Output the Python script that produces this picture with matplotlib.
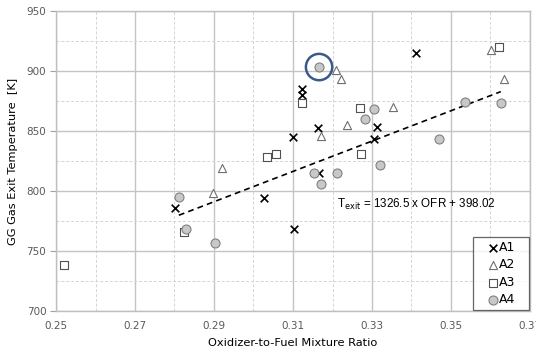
import numpy as np
import matplotlib
matplotlib.use("Agg")
import matplotlib.pyplot as plt
from matplotlib.ticker import MultipleLocator, FormatStrFormatter

# --- Data ---
a1_x = [0.2801, 0.3027, 0.3103, 0.3124, 0.3124, 0.3164, 0.3101, 0.3312, 0.3304, 0.3167, 0.3411]
a1_y = [786.1, 794.4, 768.7, 885.3, 879.8, 852.8, 845.0, 853.6, 843.4, 815.0, 915.3]

a2_x = [0.2897, 0.2919, 0.3171, 0.3208, 0.3222, 0.3237, 0.3354, 0.3601, 0.3635]
a2_y = [798.3, 819.5, 845.9, 901.2, 893.7, 854.8, 870.0, 917.2, 893.6]

a3_x = [0.2519, 0.2824, 0.3035, 0.3057, 0.3124, 0.3270, 0.3271, 0.3622]
a3_y = [738.7, 766.2, 828.6, 830.8, 873.7, 869.5, 830.6, 920.0]

a4_x = [0.2811, 0.2829, 0.2903, 0.3154, 0.3171, 0.3166, 0.3211, 0.3282, 0.3304, 0.3321, 0.3469, 0.3536, 0.3626]
a4_y = [795.0, 768.1, 756.4, 815.0, 806.2, 903.3, 815.3, 859.8, 868.1, 822.0, 843.3, 874.2, 873.1]

# highlighted point and trend line span
highlight = (0.3166, 903.3)
trend_x = [0.2811, 0.3626]
trend_y = [779.8, 882.8]

fig = plt.figure(figsize=(5.36, 3.57), dpi=100)
ax = fig.add_axes([56 / 536, 1 - 311 / 357, 474 / 536, 300 / 357])

grey = "#595959"
ax.scatter(a1_x, a1_y, marker="x", s=30, color="black", linewidths=1.2, label="A1", zorder=3)
ax.scatter(a2_x, a2_y, marker="^", s=34, facecolors="white", edgecolors="#707070", linewidths=0.8, label="A2", zorder=3)
ax.scatter(a3_x, a3_y, marker="s", s=28, facecolors="white", edgecolors="#505050", linewidths=0.8, label="A3", zorder=3)
ax.scatter(a4_x, a4_y, marker="o", s=42, facecolors="#c8c8c8", edgecolors="#808080", linewidths=0.8, label="A4", zorder=3)

ax.scatter([highlight[0]], [highlight[1]], marker="o", s=360, facecolors="none",
           edgecolors="#3a5a8c", linewidths=1.8, zorder=4)

ax.plot(trend_x, trend_y, color="black", linestyle=(0, (3.5, 2.5)), linewidth=1.2, zorder=2)

ax.text(0.3211, 789, r"T$_{\rm exit}$ = 1326.5 x OFR + 398.02", fontsize=8.4,
        family="Liberation Sans", va="center", ha="left")

ax.set_xlim(0.25, 0.37)
ax.set_ylim(700, 950)
ax.xaxis.set_major_locator(MultipleLocator(0.02, offset=0.01))
ax.xaxis.set_minor_locator(MultipleLocator(0.01))
ax.yaxis.set_major_locator(MultipleLocator(50))
ax.yaxis.set_minor_locator(MultipleLocator(25))
ax.xaxis.set_major_formatter(FormatStrFormatter("%.2f"))

ax.grid(which="major", color="#c4c4c4", linewidth=1.0, linestyle="-")
ax.grid(which="minor", color="#d4d4d4", linewidth=0.7, linestyle=(0, (3, 2)))
ax.set_axisbelow(True)

for s in ax.spines.values():
    s.set_color("#bfbfbf")
    s.set_linewidth(1.0)

ax.tick_params(which="major", axis="y", length=4, color="#a0a0a0", labelsize=7.5, labelcolor=grey, pad=3)
ax.tick_params(which="major", axis="x", length=0, labelsize=7.5, labelcolor=grey, pad=7)
ax.tick_params(which="minor", length=0)

ax.set_xlabel("Oxidizer-to-Fuel Mixture Ratio", fontsize=8.2, labelpad=5)
ax.set_ylabel("GG Gas Exit Temperature  [K]", fontsize=8.2, labelpad=6)

leg = ax.legend(loc="lower left", bbox_to_anchor=(417 / 474, 0.003, 56 / 474, 0.2),
                mode="expand", fontsize=9, frameon=True, fancybox=False,
                handletextpad=-0.84, handlelength=2.65, labelspacing=0.36,
                borderpad=0.3, borderaxespad=0.0)
leg.get_frame().set_edgecolor("#404040")
leg.get_frame().set_linewidth(0.9)

fig.savefig("out.png", dpi=100)
